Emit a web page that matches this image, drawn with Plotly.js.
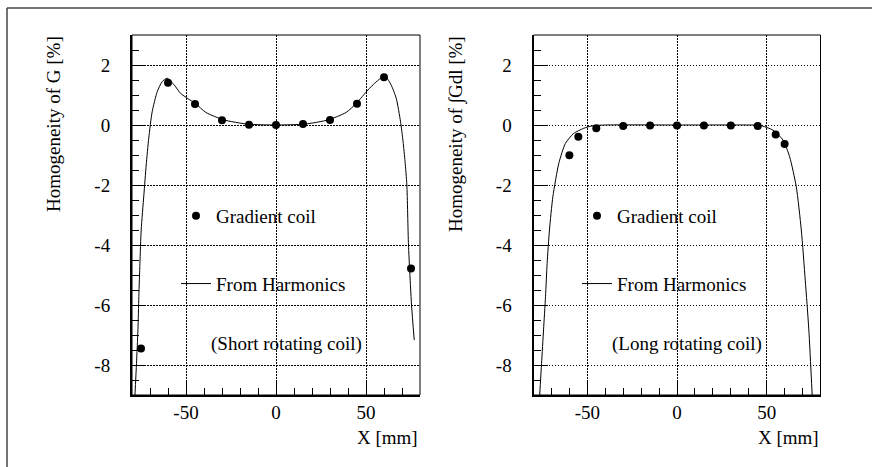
<!DOCTYPE html>
<html>
<head>
<meta charset="utf-8">
<script src="https://cdn.plot.ly/plotly-3.0.1.min.js"></script>
<style>html,body{margin:0;padding:0;background:#fff;}#chart{width:872px;height:467px;}</style>
</head>
<body>
<div id="chart"></div>
<script>
// ---- Data ----
// Left panel: short rotating coil, homogeneity of G [%]
const shortCoilX = [-75, -60, -45, -30, -15, 0, 15, 30, 45, 60, 75];
const shortCoilY = [-7.45, 1.41, 0.70, 0.16, 0.01, 0.0, 0.03, 0.17, 0.71, 1.59, -4.78];
const shortHarmX = [-78.4, -77.5, -76.7, -76.2, -75.6, -74.9, -73.4, -72.1, -70.7, -68.8, -66.0, -63.3, -60.5, -56.5, -53.1, -49.0, -44.8, -39.0, -29.0, -16.0, 0, 16.0, 29.0, 39.0, 44.6, 51.1, 54.8, 58.0, 61.0, 64.0, 66.8, 69.2, 70.6, 71.7, 72.7, 73.6, 75.3, 76.8];
const shortHarmY = [-9.05, -7.94, -6.83, -5.72, -4.61, -3.50, -2.33, -1.33, -0.44, 0.44, 1.11, 1.44, 1.56, 1.33, 1.06, 0.88, 0.72, 0.42, 0.17, 0.03, 0.0, 0.03, 0.17, 0.42, 0.72, 1.17, 1.39, 1.55, 1.60, 1.33, 0.89, 0.11, -0.56, -1.22, -2.00, -4.00, -6.00, -7.17];

// Right panel: long rotating coil, homogeneity of integral G dl [%]
const longCoilX = [-60, -55, -45, -30, -15, 0, 15, 30, 45, 55, 60];
const longCoilY = [-1.01, -0.39, -0.11, -0.03, -0.02, -0.02, -0.02, -0.02, -0.03, -0.32, -0.63];
const longHarmX = [-76.6, -75.5, -74.4, -73.3, -72.4, -71.1, -69.2, -65.9, -62.2, -57.6, -52.0, -47.4, -40.0, 0, 40.0, 46.0, 53.5, 59.1, 62.8, 66.5, 69.3, 71.5, 73.5, 75.4];
const longHarmY = [-9.05, -7.94, -6.83, -5.72, -4.61, -3.50, -2.39, -1.28, -0.61, -0.28, -0.11, -0.03, 0.0, 0.0, 0.0, -0.01, -0.17, -0.50, -1.06, -2.06, -3.50, -5.17, -6.83, -9.05];

const yTickVals = [-8, -6, -4, -2, 0, 2];
const yTickText = ['-8', '-6', '-4', '-2', '0', '2'];
const xTickVals = [-50, 0, 50];
const xTickText = ['-50', '0', '50'];
const labels = {
  marker: 'Gradient coil',
  line: 'From Harmonics',
  leftNote: '(Short rotating coil)',
  rightNote: '(Long rotating coil)',
  leftY: 'Homogeneity of G [%]',
  rightY: 'Homogeneity of \u222BGdl [%]',
  x: 'X [mm]'
};

// ---- Layout helpers ----
const W = 872, H = 467;
const px = v => v / W;
const py = v => 1 - v / H;
const FONT = 'Liberation Serif, Times New Roman, serif';
const GRIDDASH = '1.5px,1.5px';

function xAxis(domain, anchor) {
  return {
    domain: domain, anchor: anchor, range: [-80, 80],
    tickmode: 'array', tickvals: xTickVals, ticktext: xTickText,
    ticks: 'inside', ticklen: 13, tickwidth: 1, tickcolor: '#000',
    minor: {dtick: 10, tick0: 0, ticks: 'inside', ticklen: 7, tickwidth: 1, tickcolor: '#000', showgrid: false},
    showgrid: true, gridcolor: '#000', gridwidth: 1, griddash: GRIDDASH,
    zeroline: false, showline: true, linecolor: '#000', linewidth: 2, mirror: false,
    ticklabelstandoff: -1,
    tickfont: {family: FONT, size: 19, color: '#000'}
  };
}
function yAxis(anchor) {
  return {
    domain: [py(395), py(35)], anchor: anchor, range: [-9, 3],
    tickmode: 'array', tickvals: yTickVals, ticktext: yTickText,
    ticks: 'inside', ticklen: 14, tickwidth: 1, tickcolor: '#000',
    minor: {dtick: 0.5, tick0: 0, ticks: 'inside', ticklen: 7, tickwidth: 1, tickcolor: '#000', showgrid: false},
    showgrid: true, gridcolor: '#000', gridwidth: 1, griddash: GRIDDASH,
    zeroline: false, showline: true, linecolor: '#000', linewidth: 2, mirror: false,
    ticklabelstandoff: 16,
    tickfont: {family: FONT, size: 19, color: '#000'}
  };
}

const lineStyle = {color: '#000', width: 1, shape: 'spline', smoothing: 0.6};
const markerStyle = {color: '#000', size: 8, symbol: 'circle'};

const data = [
  {x: shortHarmX, y: shortHarmY, xaxis: 'x', yaxis: 'y', mode: 'lines', line: lineStyle,
   name: labels.line, legend: 'legend', legendgroup: 'a2', legendrank: 2, hoverinfo: 'skip'},
  {x: shortCoilX, y: shortCoilY, xaxis: 'x', yaxis: 'y', mode: 'markers', marker: markerStyle,
   name: labels.marker, legend: 'legend', legendgroup: 'a1', legendrank: 1},
  {x: longHarmX, y: longHarmY, xaxis: 'x2', yaxis: 'y2', mode: 'lines', line: lineStyle,
   name: labels.line, legend: 'legend2', legendgroup: 'b2', legendrank: 2, hoverinfo: 'skip'},
  {x: longCoilX, y: longCoilY, xaxis: 'x2', yaxis: 'y2', mode: 'markers', marker: markerStyle,
   name: labels.marker, legend: 'legend2', legendgroup: 'b1', legendrank: 1}
];

const legendBase = {
  xanchor: 'left', yanchor: 'top', y: py(197),
  bgcolor: 'rgba(0,0,0,0)', borderwidth: 0,
  traceorder: 'grouped', tracegroupgap: 40,
  font: {family: FONT, size: 19, color: '#000'}
};

const frameShape = (xr, yr) => ({type: 'rect', xref: xr + ' domain', yref: yr + ' domain',
  x0: 0, x1: 1, y0: 0, y1: 1, line: {color: '#000', width: 1}, layer: 'above'});

const layout = {
  width: W, height: H,
  margin: {l: 0, r: 0, t: 0, b: 0},
  paper_bgcolor: '#fff', plot_bgcolor: '#fff',
  font: {family: FONT, size: 19, color: '#000'},
  showlegend: true,
  xaxis: xAxis([px(132), px(420)], 'y'),
  yaxis: yAxis('x'),
  xaxis2: xAxis([px(533.5), px(820.5)], 'y2'),
  yaxis2: yAxis('x2'),
  legend: Object.assign({}, legendBase, {x: px(176)}),
  legend2: Object.assign({}, legendBase, {x: px(577)}),
  shapes: [
    frameShape('x', 'y'),
    frameShape('x2', 'y2'),
    {type: 'line', xref: 'paper', yref: 'paper', x0: px(7), x1: px(7), y0: -0.05, y1: py(8), line: {color: '#444', width: 1.5}},
    {type: 'line', xref: 'paper', yref: 'paper', x0: px(7), x1: 1.05, y0: py(8), y1: py(8), line: {color: '#444', width: 1.5}}
  ],
  annotations: [
    {text: labels.x, xref: 'x domain', yref: 'paper', x: 1, y: py(437), xanchor: 'right', yanchor: 'middle', showarrow: false, font: {family: FONT, size: 19}},
    {text: labels.x, xref: 'x2 domain', yref: 'paper', x: 1, y: py(437), xanchor: 'right', yanchor: 'middle', showarrow: false, font: {family: FONT, size: 19}},
    {text: labels.leftY, xref: 'paper', yref: 'paper', x: px(53), y: py(34), xanchor: 'center', yanchor: 'top', textangle: -90, showarrow: false, font: {family: FONT, size: 19}},
    {text: labels.rightY, xref: 'paper', yref: 'paper', x: px(456), y: py(34), xanchor: 'center', yanchor: 'top', textangle: -90, showarrow: false, font: {family: FONT, size: 19}},
    {text: labels.leftNote, xref: 'paper', yref: 'paper', x: px(209), y: py(344), xanchor: 'left', yanchor: 'middle', showarrow: false, font: {family: FONT, size: 19}},
    {text: labels.rightNote, xref: 'paper', yref: 'paper', x: px(610), y: py(344), xanchor: 'left', yanchor: 'middle', showarrow: false, font: {family: FONT, size: 19}}
  ]
};

Plotly.newPlot('chart', data, layout, {staticPlot: true, displayModeBar: false});
</script>
</body>
</html>
